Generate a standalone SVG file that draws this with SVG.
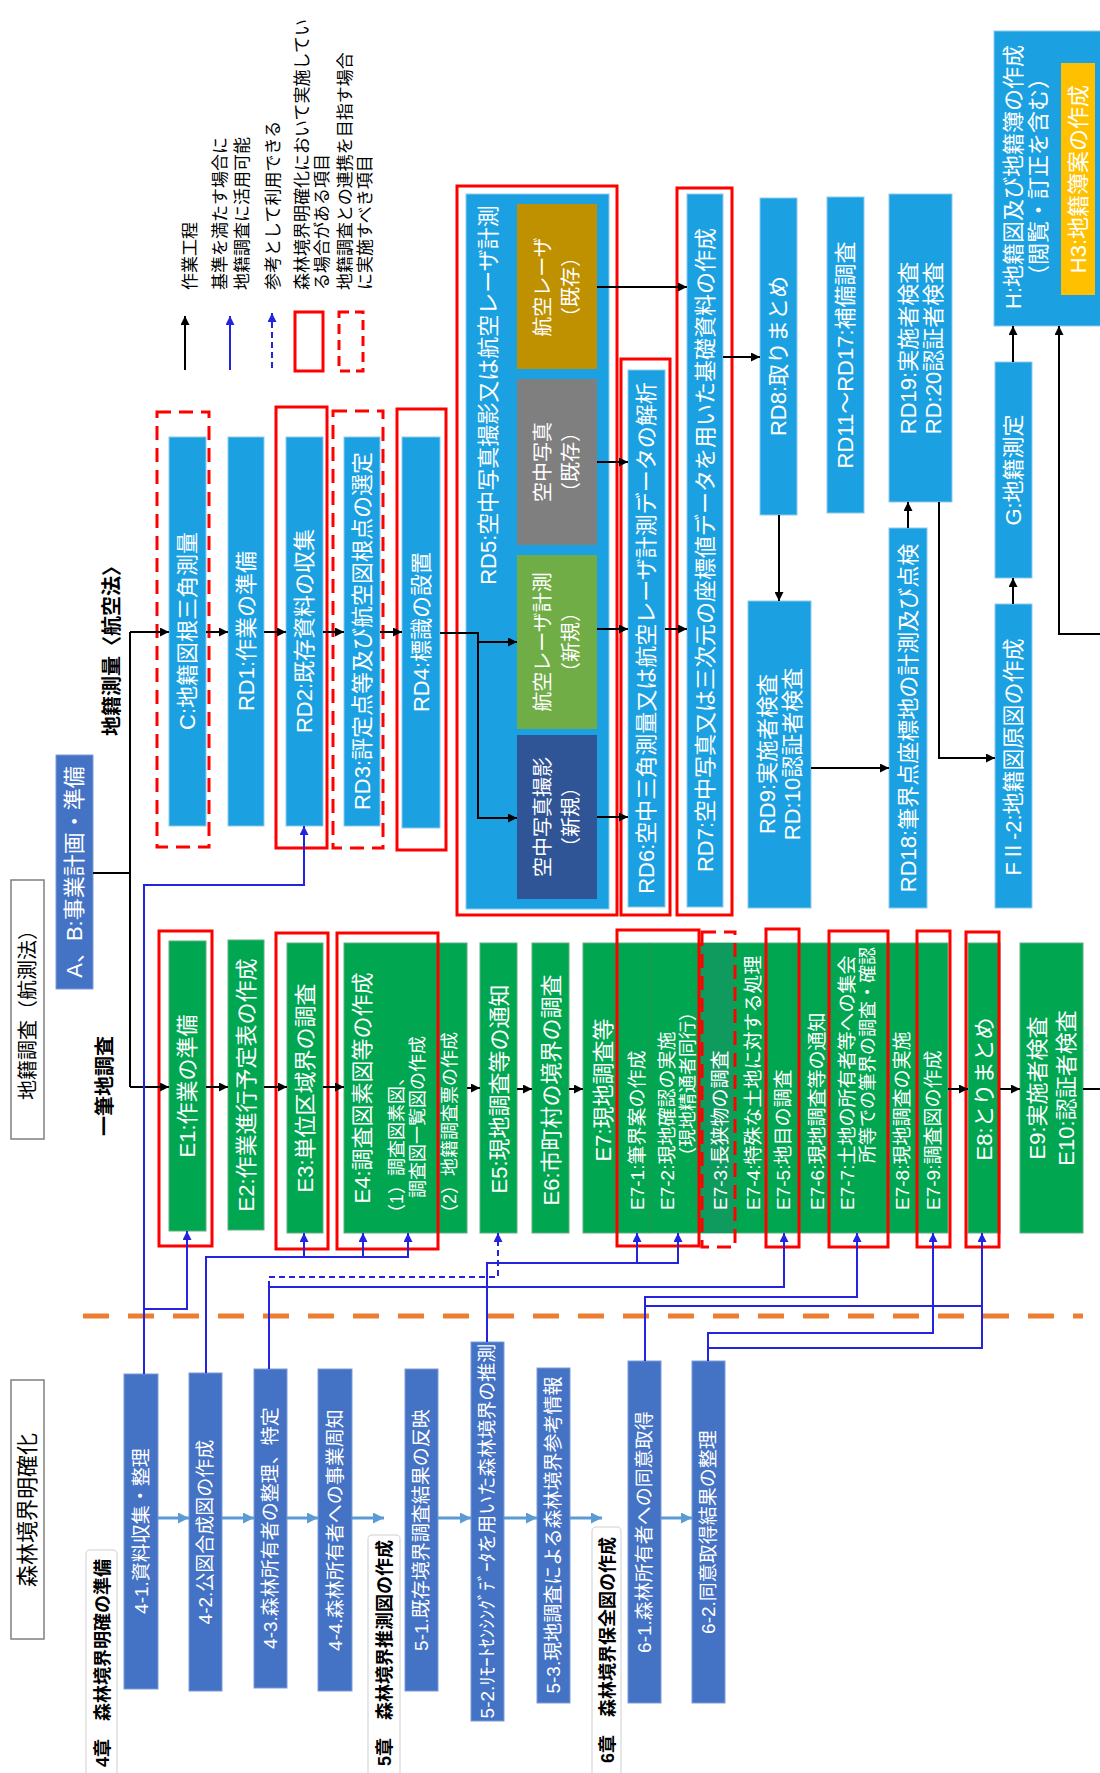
<svg xmlns="http://www.w3.org/2000/svg" width="1100" height="1773" viewBox="0 0 1100 1773">
<defs>
<style>
text{font-family:"Liberation Sans","Noto Sans CJK JP",sans-serif}
.lb{fill:#1BA1E2;stroke:#8ec9ec;stroke-width:1}
.gr{fill:#00A650;stroke:#5cb27f;stroke-width:1}
.db{fill:#4472C4;stroke:#7c9bd6;stroke-width:1}
.rs{fill:none;stroke:#FF0000;stroke-width:3}
.rd{fill:none;stroke:#FF0000;stroke-width:3;stroke-dasharray:14 8}
.c22{font-size:22px;fill:#fff;text-anchor:middle;dominant-baseline:central}
.c20{font-size:20px;fill:#fff;text-anchor:middle;dominant-baseline:central}
.c19{font-size:19px;fill:#fff;text-anchor:middle;dominant-baseline:central}
.s19{font-size:19px;fill:#fff;text-anchor:start;dominant-baseline:central}
.s18{font-size:18px;fill:#fff;text-anchor:start;dominant-baseline:central}
.leg{font-size:17px;fill:#000;text-anchor:start;dominant-baseline:central}
.hd{font-size:20px;fill:#000;text-anchor:middle;dominant-baseline:central;font-weight:bold}
.ch{font-size:18px;fill:#000;text-anchor:start;dominant-baseline:central;font-weight:bold}
.k{stroke:#000;stroke-width:2;fill:none}
.b{stroke:#2323E0;stroke-width:2;fill:none}
.bd{stroke:#2323E0;stroke-width:2;fill:none;stroke-dasharray:6 4}
.la{stroke:#5B9BD5;stroke-width:3;fill:none}
.frame{fill:#fff;stroke:#7f7f7f;stroke-width:1.5}
.faint{fill:none;stroke:#e0e0e0;stroke-width:1.5}
</style>
<marker id="ak" viewBox="0 0 10 10" refX="10" refY="5" markerWidth="9" markerHeight="9" markerUnits="userSpaceOnUse" orient="auto"><path d="M0,0 L10,5 L0,10 z" fill="#000"/></marker>
<marker id="ab" viewBox="0 0 10 10" refX="10" refY="5" markerWidth="9" markerHeight="9" markerUnits="userSpaceOnUse" orient="auto"><path d="M0,0 L10,5 L0,10 z" fill="#2323E0"/></marker>
<marker id="al" viewBox="0 0 10 10" refX="10" refY="5" markerWidth="11" markerHeight="11" markerUnits="userSpaceOnUse" orient="auto"><path d="M0,0 L10,5 L0,10 z" fill="#5B9BD5"/></marker>
</defs>
<rect width="1100" height="1773" fill="#fff"/>

<g id="legend">
<path class="k" d="M185,370 V316" marker-end="url(#ak)"/>
<path class="b" d="M230,370 V316" marker-end="url(#ab)"/>
<path class="bd" d="M272,368 V313" marker-end="url(#ab)"/>
<rect class="rs" x="295" y="312" width="28" height="59"/>
<rect class="rd" x="339" y="312" width="24" height="59" style="stroke-dasharray:10 6"/>
<text class="leg" transform="translate(190,290) rotate(-90)">作業工程</text>
<text class="leg" transform="translate(220,290) rotate(-90)">基準を満たす場合に</text>
<text class="leg" transform="translate(242,290) rotate(-90)">地籍調査に活用可能</text>
<text class="leg" transform="translate(273,290) rotate(-90)">参考として利用できる</text>
<text class="leg" transform="translate(302,290) rotate(-90)">森林境界明確化において実施してい</text>
<text class="leg" transform="translate(322,290) rotate(-90)">る場合がある項目</text>
<text class="leg" transform="translate(345,290) rotate(-90)">地籍調査との連携を目指す場合</text>
<text class="leg" transform="translate(365,290) rotate(-90)">に実施すべき項目</text>
</g>

<g id="section-labels">
<rect class="frame" x="11" y="880" width="33" height="259"/>
<text class="hd" style="font-weight:normal" transform="translate(27.5,1010) rotate(-90)">地籍調査（航測法）</text>
<text class="hd" transform="translate(112,646) rotate(-90)">地籍測量〈航空法〉</text>
<text class="hd" transform="translate(105,1086) rotate(-90)">一筆地調査</text>
<rect class="frame" x="11" y="1380" width="33" height="259"/>
<text class="hd" style="font-weight:normal;font-size:22px" transform="translate(27.5,1510) rotate(-90)">森林境界明確化</text>
<rect class="faint" x="86" y="1550" width="31" height="230" rx="4"/>
<text class="ch" transform="translate(103,1767) rotate(-90)">4章　森林境界明確の準備</text>
<rect class="faint" x="368" y="1535" width="32" height="245" rx="4"/>
<text class="ch" transform="translate(385,1766) rotate(-90)">5章　森林境界推測図の作成</text>
<rect class="faint" x="592" y="1527" width="29" height="253" rx="4"/>
<text class="ch" transform="translate(608,1763) rotate(-90)">6章　森林境界保全図の作成</text>
<path d="M83,1316 H1083" stroke="#ED7D31" stroke-width="5" stroke-dasharray="26 19" fill="none"/>
</g>

<g id="node-AB"><rect class="db" x="56" y="755" width="37" height="234"/><text class="c22" transform="translate(74.5,872) rotate(-90)">A、B:事業計画・準備</text></g>

<g id="node-C"><rect class="lb" x="169" y="437" width="37" height="389"/><text class="c22" transform="translate(187.5,631) rotate(-90)">C:地籍図根三角測量</text><rect class="rd" x="157" y="412" width="52" height="435"/></g>
<g id="node-RD1"><rect class="lb" x="228" y="437" width="36" height="389"/><text class="c22" transform="translate(246,631) rotate(-90)">RD1:作業の準備</text></g>
<g id="node-RD2"><rect class="lb" x="286" y="437" width="37" height="389"/><text class="c22" transform="translate(304.5,631) rotate(-90)">RD2:既存資料の収集</text><rect class="rs" x="276" y="407" width="51" height="441"/></g>
<g id="node-RD3"><rect class="lb" x="344" y="437" width="36" height="389"/><text class="c22" transform="translate(362,631) rotate(-90)">RD3:評定点等及び航空図根点の選定</text><rect class="rd" x="333" y="411" width="50" height="437"/></g>
<g id="node-RD4"><rect class="lb" x="402" y="437" width="38" height="391"/><text class="c22" transform="translate(421,632) rotate(-90)">RD4:標識の設置</text><rect class="rs" x="397" y="409" width="49" height="441"/></g>

<g id="node-RD5">
<rect class="lb" x="466" y="194" width="143" height="715"/>
<rect class="rs" x="457" y="186" width="160" height="729"/>
<text class="c22" transform="translate(488,395) rotate(-90)">RD5:空中写真撮影又は航空レーザ計測</text>
<g id="node-RD5-laser-existing"><rect x="517" y="204" width="80" height="165" fill="#BF9000"/><text class="c20" transform="translate(543,287) rotate(-90)">航空レーザ</text><text class="c20" transform="translate(571,287) rotate(-90)">（既存）</text></g>
<g id="node-RD5-photo-existing"><rect x="517" y="379" width="80" height="166" fill="#7F7F7F"/><text class="c20" transform="translate(543,462) rotate(-90)">空中写真</text><text class="c20" transform="translate(571,462) rotate(-90)">（既存）</text></g>
<g id="node-RD5-laser-new"><rect x="517" y="555" width="80" height="174" fill="#70AD47"/><text class="c20" transform="translate(543,642) rotate(-90)">航空レーザ計測</text><text class="c20" transform="translate(571,642) rotate(-90)">（新規）</text></g>
<g id="node-RD5-photo-new"><rect x="517" y="735" width="80" height="164" fill="#2F5597"/><text class="c20" transform="translate(543,817) rotate(-90)">空中写真撮影</text><text class="c20" transform="translate(571,817) rotate(-90)">（新規）</text></g>
</g>
<g id="node-RD6"><rect class="lb" x="628" y="370" width="37" height="537"/><text class="c22" transform="translate(646.5,638) rotate(-90)">RD6:空中三角測量又は航空レーザ計測データの解析</text><rect class="rs" x="621" y="359" width="49" height="556"/></g>
<g id="node-RD7"><rect class="lb" x="687" y="194" width="36" height="713"/><text class="c22" transform="translate(705,550) rotate(-90)">RD7:空中写真又は三次元の座標値データを用いた基礎資料の作成</text><rect class="rs" x="677" y="188" width="55" height="727"/></g>
<g id="node-RD8"><rect class="lb" x="760" y="198" width="37" height="317"/><text class="c22" transform="translate(778.5,356) rotate(-90)">RD8:取りまとめ</text></g>
<g id="node-RD11-17"><rect class="lb" x="827" y="197" width="37" height="316"/><text class="c22" transform="translate(845.5,355) rotate(-90)">RD11～RD17:補備調査</text></g>
<g id="node-RD19-20"><rect class="lb" x="889" y="194" width="63" height="308"/><text class="c22" transform="translate(908,348) rotate(-90)">RD19:実施者検査</text><text class="c22" transform="translate(933,348) rotate(-90)">RD:20認証者検査</text></g>
<g id="node-H"><rect class="lb" x="994" y="31" width="110" height="295"/><text class="c22" transform="translate(1013,177) rotate(-90)">H:地籍図及び地籍簿の作成</text><text class="c22" transform="translate(1038,177) rotate(-90)">（閲覧・訂正を含む）</text>
<g id="node-H3"><rect x="1061" y="63" width="34" height="232" fill="#FFC000"/><text class="c22" transform="translate(1078,179) rotate(-90)">H3:地籍簿案の作成</text></g></g>
<g id="node-G"><rect class="lb" x="995" y="362" width="37" height="216"/><text class="c22" transform="translate(1013.5,470) rotate(-90)">G:地籍測定</text></g>
<g id="node-FII-2"><rect class="lb" x="995" y="604" width="37" height="304"/><text class="c22" transform="translate(1013.5,757) rotate(-90)">FⅡ-2:地籍図原図の作成</text></g>
<g id="node-RD9-10"><rect class="lb" x="748" y="601" width="63" height="307"/><text class="c22" transform="translate(767,754) rotate(-90)">RD9:実施者検査</text><text class="c22" transform="translate(792,754) rotate(-90)">RD:10認証者検査</text></g>
<g id="node-RD18"><rect class="lb" x="889" y="528" width="38" height="380"/><text class="c22" transform="translate(908,718) rotate(-90)">RD18:筆界点座標地の計測及び点検</text></g>

<g id="node-E1"><rect class="gr" x="169" y="941" width="37" height="290"/><text class="c22" transform="translate(187.5,1086) rotate(-90)">E1:作業の準備</text><rect class="rs" x="159" y="931" width="53" height="315"/></g>
<g id="node-E2"><rect class="gr" x="228" y="940" width="36" height="290"/><text class="c22" transform="translate(246,1085) rotate(-90)">E2:作業進行予定表の作成</text></g>
<g id="node-E3"><rect class="gr" x="287" y="943" width="36" height="290"/><text class="c22" transform="translate(305,1088) rotate(-90)">E3:単位区域界の調査</text><rect class="rs" x="276" y="933" width="52" height="316"/></g>
<g id="node-E4"><rect class="gr" x="344" y="943" width="123" height="290"/><text class="c22" transform="translate(362,1088) rotate(-90)">E4:調査図素図等の作成</text><text class="s18" transform="translate(397,1222) rotate(-90)">（1）調査図素図、</text><text class="s18" transform="translate(418,1198) rotate(-90)">調査図一覧図の作成</text><text class="s18" transform="translate(450,1222) rotate(-90)">（2）地籍調査票の作成</text><rect class="rs" x="337" y="933" width="101" height="316"/></g>
<g id="node-E5"><rect class="gr" x="480" y="943" width="37" height="290"/><text class="c22" transform="translate(499,1089) rotate(-90)">E5:現地調査等の通知</text></g>
<g id="node-E6"><rect class="gr" x="532" y="943" width="37" height="290"/><text class="c22" transform="translate(551,1090) rotate(-90)">E6:市町村の境界の調査</text></g>
<g id="node-E7"><rect class="gr" x="583" y="943" width="365" height="290"/>
<rect x="700" y="943" width="35" height="290" fill="#0F9A5E"/>
<path d="M617,943 V1233 M650,943 V1233" stroke="#2d8f55" stroke-width="1" fill="none"/>
<text class="c22" transform="translate(603,1090) rotate(-90)">E7:現地調査等</text>
<text class="s19" transform="translate(637,1210) rotate(-90)">E7-1:筆界案の作成</text>
<text class="s19" transform="translate(667,1210) rotate(-90)">E7-2:現地確認の実施</text>
<text class="s18" transform="translate(688,1165) rotate(-90)">（現地精通者同行）</text>
<text class="s19" transform="translate(720,1210) rotate(-90)">E7-3:長狭物の調査</text>
<text class="s19" transform="translate(753,1210) rotate(-90)">E7-4:特殊な土地に対する処理</text>
<text class="s19" transform="translate(783,1210) rotate(-90)">E7-5:地目の調査</text>
<text class="s19" transform="translate(817,1210) rotate(-90)">E7-6:現地調査等の通知</text>
<text class="s19" transform="translate(847,1210) rotate(-90)">E7-7:土地の所有者等への集会</text>
<text class="s18" transform="translate(868,1163) rotate(-90)">所等での筆界の調査・確認</text>
<text class="s19" transform="translate(902,1210) rotate(-90)">E7-8:現地調査の実施</text>
<text class="s19" transform="translate(933,1210) rotate(-90)">E7-9:調査図の作成</text>
<rect class="rs" x="617" y="930" width="82" height="316"/>
<rect class="rd" x="702" y="932" width="33" height="315"/>
<rect class="rs" x="766" y="929" width="33" height="318"/>
<rect class="rs" x="829" y="931" width="59" height="316"/>
<rect class="rs" x="917" y="931" width="33" height="316"/>
</g>
<g id="node-E8"><rect class="gr" x="968" y="943" width="32" height="290"/><text class="c22" transform="translate(984,1089) rotate(-90)">E8:とりまとめ</text><rect class="rs" x="966" y="932" width="33" height="315"/></g>
<g id="node-E9-10"><rect class="gr" x="1020" y="943" width="63" height="290"/><text class="c22" transform="translate(1037,1088) rotate(-90)">E9:実施者検査</text><text class="c22" transform="translate(1066,1088) rotate(-90)">E10:認証者検査</text></g>

<g id="node-4-1"><rect class="db" x="124" y="1374" width="34" height="315"/><text class="c19" transform="translate(141,1531) rotate(-90)">4-1.資料収集・整理</text></g>
<g id="node-4-2"><rect class="db" x="189" y="1373" width="33" height="318"/><text class="c19" transform="translate(205.5,1532) rotate(-90)">4-2.公図合成図の作成</text></g>
<g id="node-4-3"><rect class="db" x="254" y="1369" width="33" height="319"/><text class="c19" transform="translate(270.5,1528) rotate(-90)">4-3.森林所有者の整理、特定</text></g>
<g id="node-4-4"><rect class="db" x="318" y="1369" width="34" height="322"/><text class="c19" transform="translate(335,1530) rotate(-90)">4-4.森林所有者への事業周知</text></g>
<g id="node-5-1"><rect class="db" x="405" y="1369" width="33" height="322"/><text class="c19" transform="translate(421.5,1530) rotate(-90)">5-1.既存境界調査結果の反映</text></g>
<g id="node-5-2"><rect class="db" x="471" y="1342" width="33" height="379"/><text class="c19" transform="translate(487.5,1531) rotate(-90)">5-2.ﾘﾓｰﾄｾﾝｼﾝｸﾞﾃﾞｰﾀを用いた森林境界の推測</text></g>
<g id="node-5-3"><rect class="db" x="537" y="1368" width="33" height="335"/><text class="c19" transform="translate(553.5,1535) rotate(-90)">5-3.現地調査による森林境界参考情報</text></g>
<g id="node-6-1"><rect class="db" x="628" y="1361" width="33" height="342"/><text class="c19" transform="translate(644.5,1532) rotate(-90)">6-1.森林所有者への同意取得</text></g>
<g id="node-6-2"><rect class="db" x="692" y="1361" width="33" height="342"/><text class="c19" transform="translate(708.5,1532) rotate(-90)">6-2.同意取得結果の整理</text></g>

<g id="connectors">
<path class="k" d="M93,873 H130 M130,632 V1087"/>
<path class="k" d="M130,632 H169" marker-end="url(#ak)"/>
<path class="k" d="M206,632 H228" marker-end="url(#ak)"/>
<path class="k" d="M264,632 H286" marker-end="url(#ak)"/>
<path class="k" d="M323,632 H344" marker-end="url(#ak)"/>
<path class="k" d="M380,632 H402" marker-end="url(#ak)"/>
<path class="k" d="M440,633 H478 V818 H517" marker-end="url(#ak)"/>
<path class="k" d="M478,642 H517" marker-end="url(#ak)"/>
<path class="k" d="M597,287 H687" marker-end="url(#ak)"/>
<path class="k" d="M597,462 H628" marker-end="url(#ak)"/>
<path class="k" d="M597,629 H628" marker-end="url(#ak)"/>
<path class="k" d="M597,817 H628" marker-end="url(#ak)"/>
<path class="k" d="M665,629 H687" marker-end="url(#ak)"/>
<path class="k" d="M723,357 H760" marker-end="url(#ak)"/>
<path class="k" d="M779,515 V601" marker-end="url(#ak)"/>
<path class="k" d="M811,768 H889" marker-end="url(#ak)"/>
<path class="k" d="M908,528 V502" marker-end="url(#ak)"/>
<path class="k" d="M939,502 V758 H995" marker-end="url(#ak)"/>
<path class="k" d="M1013,604 V578" marker-end="url(#ak)"/>
<path class="k" d="M1013,362 V326" marker-end="url(#ak)"/>
<path class="k" d="M1100,634 H1059 V326" marker-end="url(#ak)"/>
<path class="k" d="M130,1087 H169" marker-end="url(#ak)"/>
<path class="k" d="M206,1087 H228" marker-end="url(#ak)"/>
<path class="k" d="M264,1087 H287" marker-end="url(#ak)"/>
<path class="k" d="M323,1087 H344" marker-end="url(#ak)"/>
<path class="k" d="M467,1088 H480" marker-end="url(#ak)"/>
<path class="k" d="M517,1089 H532" marker-end="url(#ak)"/>
<path class="k" d="M569,1089 H583" marker-end="url(#ak)"/>
<path class="k" d="M948,1089 H968" marker-end="url(#ak)"/>
<path class="k" d="M1000,1089 H1020" marker-end="url(#ak)"/>
<path class="k" d="M1083,1089 H1100"/>

<path class="b" d="M144,1374 V885 H304 V826" marker-end="url(#ab)"/>
<path class="b" d="M144,1309 H187 V1231" marker-end="url(#ab)"/>
<path class="b" d="M206,1373 V1257 H408 V1233" marker-end="url(#ab)"/>
<path class="b" d="M304,1257 V1233" marker-end="url(#ab)"/>
<path class="b" d="M363,1257 V1233" marker-end="url(#ab)"/>
<path class="bd" d="M269,1287 V1277 H498 V1233" marker-end="url(#ab)"/>
<path class="b" d="M269,1369 V1287 H784 V1233" marker-end="url(#ab)"/>
<path class="b" d="M487,1342 V1263 H678 V1233" marker-end="url(#ab)"/>
<path class="b" d="M637,1263 V1233" marker-end="url(#ab)"/>
<path class="b" d="M645,1361 V1297 H857 V1233" marker-end="url(#ab)"/>
<path class="b" d="M645,1306 H982"/>
<path class="b" d="M708,1361 V1333 H933 V1233" marker-end="url(#ab)"/>
<path class="b" d="M708,1348 H982 V1233" marker-end="url(#ab)"/>

<path class="la" d="M158,1518 H189" marker-end="url(#al)"/>
<path class="la" d="M222,1518 H254" marker-end="url(#al)"/>
<path class="la" d="M287,1518 H318" marker-end="url(#al)"/>
<path class="la" d="M352,1518 H384" marker-end="url(#al)"/>
<path class="la" d="M438,1518 H471" marker-end="url(#al)"/>
<path class="la" d="M504,1518 H537" marker-end="url(#al)"/>
<path class="la" d="M570,1518 H602" marker-end="url(#al)"/>
<path class="la" d="M661,1518 H692" marker-end="url(#al)"/>
</g>
</svg>
